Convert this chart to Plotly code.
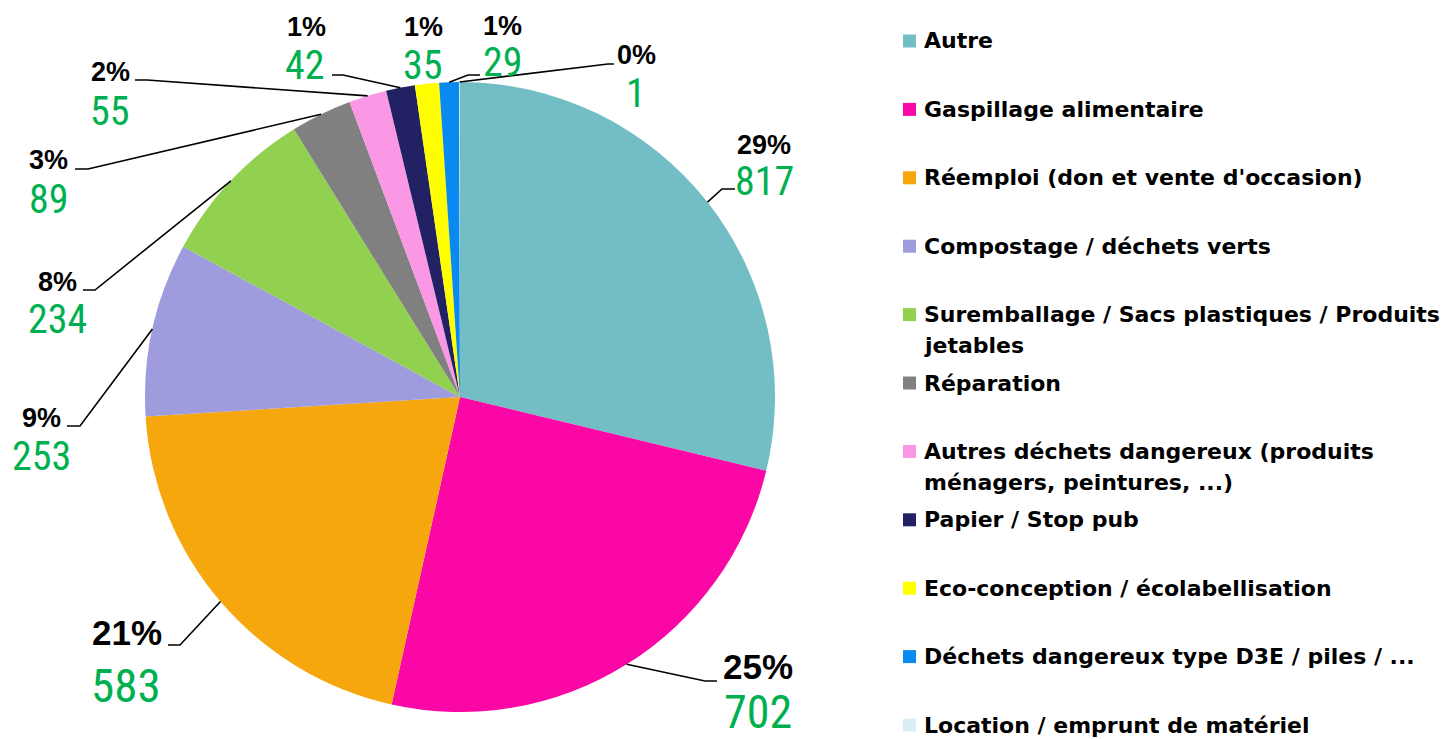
import math
import plotly.graph_objects as go

W, H = 1453, 739

# ---------------- data ----------------
categories = [
    "Autre",
    "Gaspillage alimentaire",
    "Réemploi (don et vente d'occasion)",
    "Compostage / déchets verts",
    "Suremballage / Sacs plastiques / Produits\njetables",
    "Réparation",
    "Autres déchets dangereux (produits\nménagers, peintures, ...)",
    "Papier / Stop pub",
    "Eco-conception / écolabellisation",
    "Déchets dangereux type D3E / piles / ...",
    "Location / emprunt de matériel",
]
values = [817, 702, 583, 253, 234, 89, 55, 42, 35, 29, 1]
colors = ["#73BEC5", "#FA07A6", "#F5A70D", "#9E9CDC", "#92D050", "#808080",
          "#FA98E6", "#212163", "#FFFF00", "#0A89EF", "#DAEEF3"]

# ---------------- layout (pixel positions of labels) ----------------
pie_cx, pie_cy, pie_r = 460, 397, 315
pct_xy = [(764, 145), (758, 666), (127, 632), (41, 418), (57, 282), (48, 160),
          (110, 72), (306, 27), (423, 27), (503, 26), (636, 55)]
val_xy = [(764, 182), (758, 712), (126, 685), (41, 457), (57, 320), (49, 199),
          (110, 112), (305, 65), (423, 65), (503, 63), (636, 93)]
pct_size = [27, 35, 35, 27, 27, 27, 27, 27, 27, 27, 27]
val_size = [40, 46, 47, 40, 40, 40, 40, 40, 40, 40, 40]
elbow_xy = [(722, 189), (705, 681), (180, 645), (80, 426), (95, 290), (88, 169),
            (147, 80), (343, 75), None, (468, 75), (608, 64)]
end_xy = [(735, 189), (717, 681), (168, 645), (67, 426), (83, 290), (75, 169),
          (135, 80), (332, 75), None, (480, 75), (614, 64)]

legend_x_sq, legend_x_txt = 903, 922
legend_y0, legend_step, legend_line = 41, 68.4, 31


def px(x):
    return x / W


def py(y):
    return 1 - y / H


total = sum(values)
pct_text = [f"{round(v / total * 100)}%" for v in values]

fig = go.Figure()
fig.add_trace(go.Pie(
    labels=[c.replace("\n", " ") for c in categories],
    values=values,
    sort=False,
    direction="clockwise",
    rotation=0,
    textinfo="none",
    marker=dict(colors=colors, line=dict(width=0)),
    showlegend=False,
    domain=dict(x=[px(pie_cx - pie_r), px(pie_cx + pie_r)],
                y=[py(pie_cy + pie_r), py(pie_cy - pie_r)]),
))

annotations = []
shapes = []

# slice labels + leader lines
cum = 0
for i, v in enumerate(values):
    mid = (cum + v / 2) / total * 2 * math.pi
    cum += v
    sx = pie_cx + pie_r * math.sin(mid)
    sy = pie_cy - pie_r * math.cos(mid)
    annotations.append(dict(
        x=px(pct_xy[i][0]), y=py(pct_xy[i][1]), xref="paper", yref="paper",
        text=pct_text[i], showarrow=False, xanchor="center", yanchor="middle",
        font=dict(family="Liberation Sans, Arial, sans-serif", size=pct_size[i],
                  color="#000000", weight="bold")))
    annotations.append(dict(
        x=px(val_xy[i][0]), y=py(val_xy[i][1]), xref="paper", yref="paper",
        text=str(v), showarrow=False, xanchor="center", yanchor="middle",
        font=dict(family="Liberation Sans Narrow, Roboto Condensed, Roboto, sans-serif",
                  size=val_size[i], color="#00B050")))
    if elbow_xy[i] is not None:
        ex, ey = elbow_xy[i]
        tx, ty = end_xy[i]
        shapes.append(dict(
            type="path", xref="paper", yref="paper",
            path=f"M {px(sx)},{py(sy)} L {px(ex)},{py(ey)} L {px(tx)},{py(ty)}",
            line=dict(color="#000000", width=1.6)))

# legend (manual, to reproduce the spacing)
for i, cat in enumerate(categories):
    yc = legend_y0 + legend_step * i
    shapes.append(dict(
        type="rect", xref="paper", yref="paper",
        x0=px(legend_x_sq), x1=px(legend_x_sq + 13),
        y0=py(yc - 6.5), y1=py(yc + 6.5),
        fillcolor=colors[i], line=dict(width=0)))
    for k, line in enumerate(cat.split("\n")):
        annotations.append(dict(
            x=px(legend_x_txt), y=py(yc + k * legend_line), xref="paper", yref="paper",
            text=line, showarrow=False, xanchor="left", yanchor="middle",
            font=dict(family="DejaVu Sans, sans-serif", size=22,
                      color="#000000", weight="bold")))

fig.update_layout(
    width=W, height=H,
    margin=dict(l=0, r=0, t=0, b=0),
    paper_bgcolor="white", plot_bgcolor="white",
    annotations=annotations, shapes=shapes,
)

fig.write_html("out.html", config={"displayModeBar": False},
               post_script="document.body.style.margin='0px';document.body.style.padding='0px';")
